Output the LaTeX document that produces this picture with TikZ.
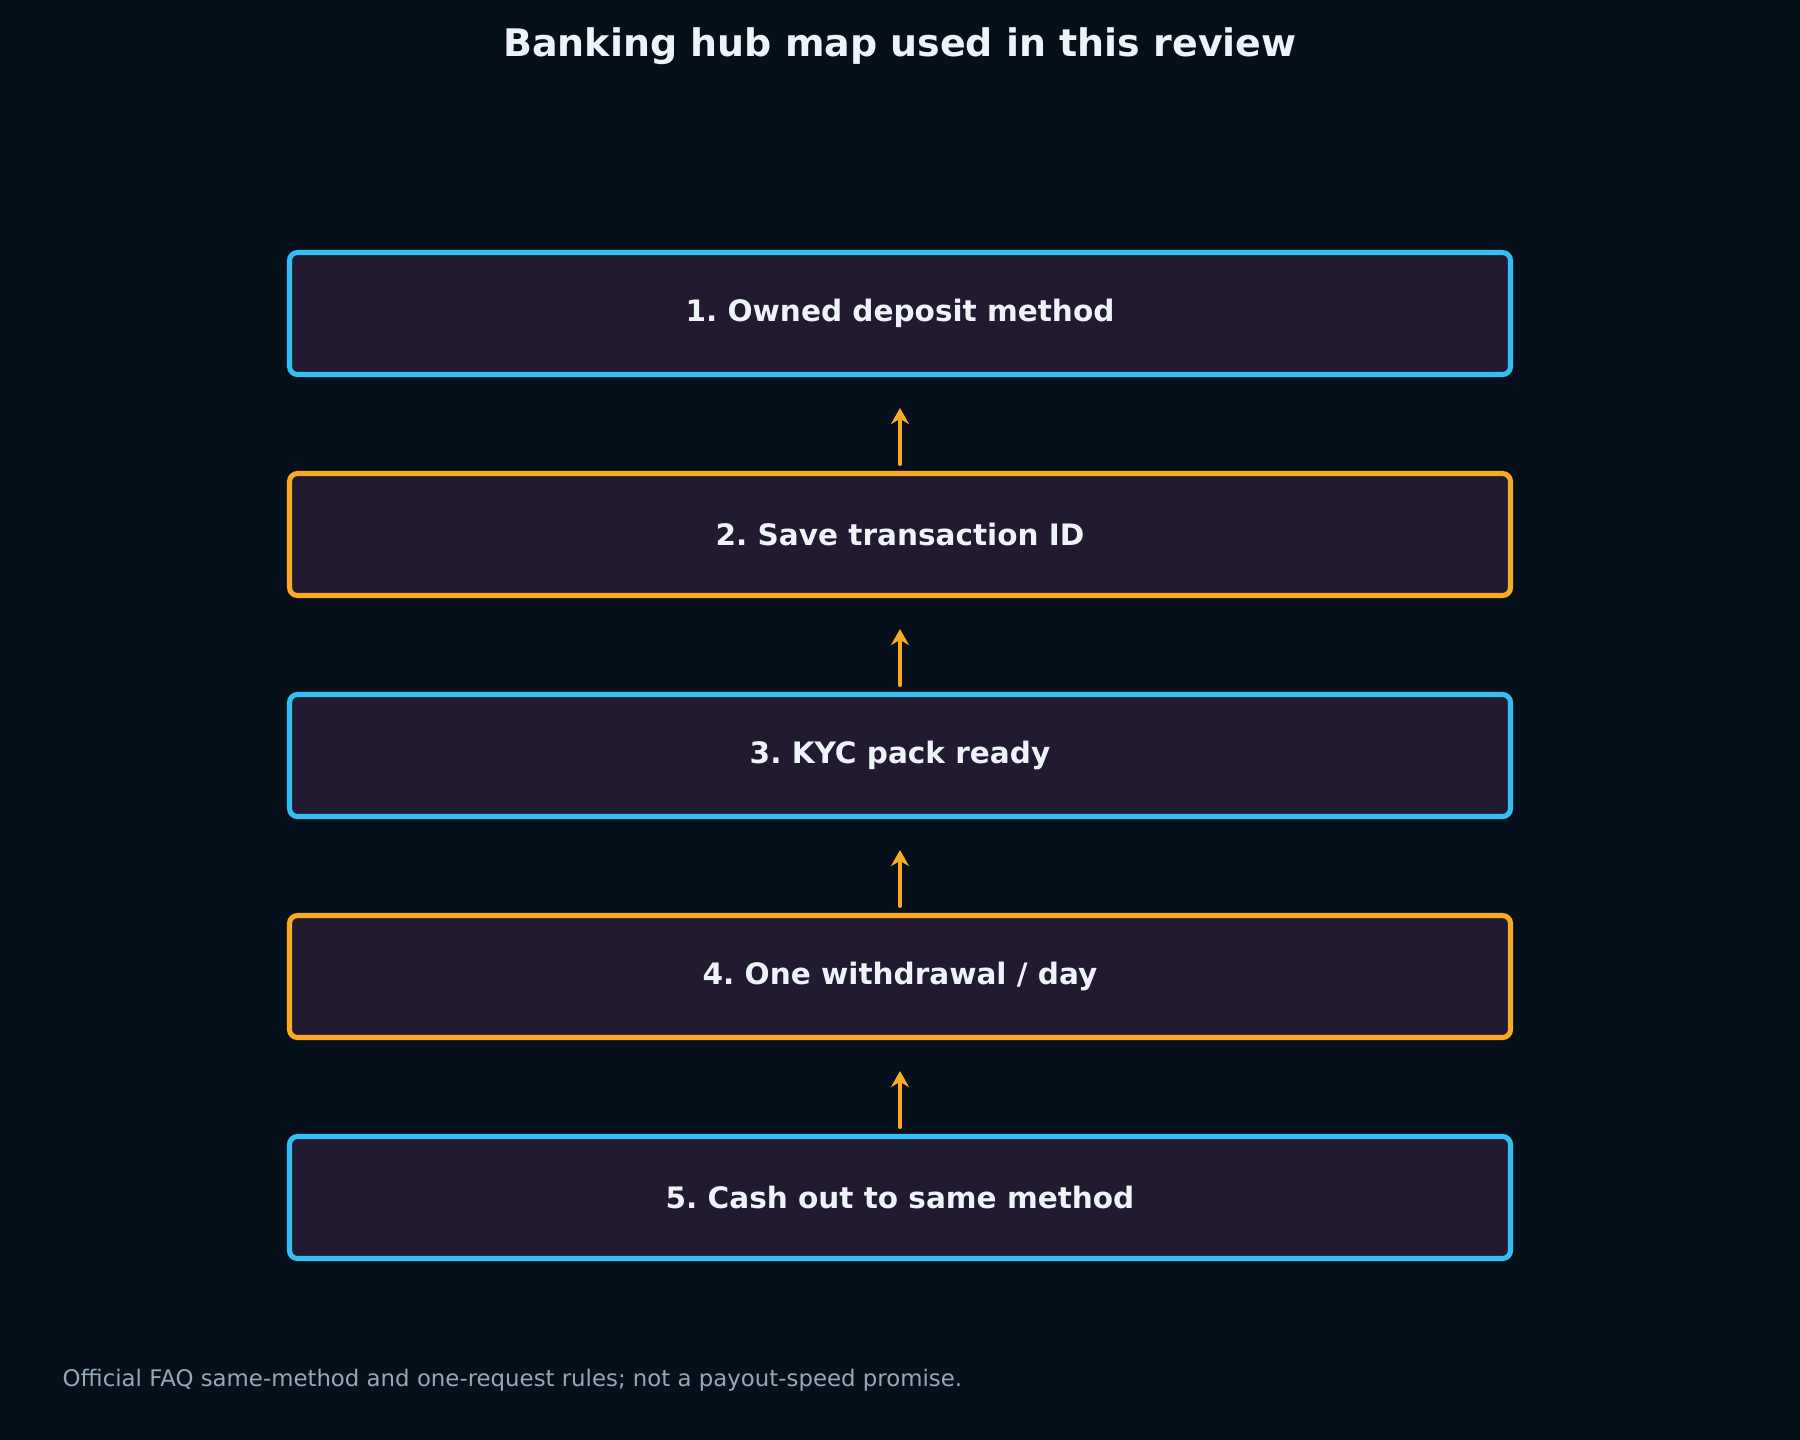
\documentclass[tikz,border=0pt]{standalone}
\usepackage{fontspec}
\setmainfont{DejaVu Sans}
\usetikzlibrary{positioning}
\usetikzlibrary{arrows.meta}
\definecolor{bgdark}{HTML}{06101A}
\definecolor{boxfill}{HTML}{211A31}
\definecolor{skyline}{HTML}{33BFF2}
\definecolor{amber}{HTML}{F9AB26}
\definecolor{paletext}{HTML}{EEF3FA}
\definecolor{notegray}{HTML}{93A8B8}
\frenchspacing

\begin{document}
\begin{tikzpicture}[node distance=2.21cm,on grid,
  stage/.style={draw,fill=boxfill,line width=1.45pt,rounded corners=0.8mm,
    minimum width=12.21cm,minimum height=1.22cm,text=paletext,
    font=\fontsize{8.4}{10}\selectfont\bfseries},
  up/.style={amber,line width=1.15pt,line cap=round,
    -{Stealth[length=1.6mm,width=1.8mm]},shorten <=0.07cm,shorten >=0.31cm}]
  \fill[bgdark] (0,0) rectangle (18,-14.4);
  \useasboundingbox (0,0) rectangle (18,-14.4);
  \node[text=paletext,font=\fontsize{10.8}{13}\selectfont\bfseries] (title) at (9,-0.465) {Banking hub map used in this review};
   \node[stage,draw=skyline] (s1) at (9,-3.135) {1. Owned deposit method};
   \node[stage,draw=amber] (s2) [below=of s1] {2. Save transaction ID};
   \node[stage,draw=skyline] (s3) [below=of s2] {3. KYC pack ready};
   \node[stage,draw=amber] (s4) [below=of s3] {4. One withdrawal / day};
   \node[stage,draw=skyline] (s5) [below=of s4] {5. Cash out to same method};
   \draw[up] (s2) -- (s1);
   \draw[up] (s3) -- (s2);
   \draw[up] (s4) -- (s3);
   \draw[up] (s5) -- (s4);
  \node[anchor=base west,inner sep=0,text=notegray,font=\fontsize{6.5}{8}\selectfont] (note) at (0.62,-13.86) {Official FAQ same-method and one-request rules; not a payout-speed promise.};
\end{tikzpicture}
\end{document}
